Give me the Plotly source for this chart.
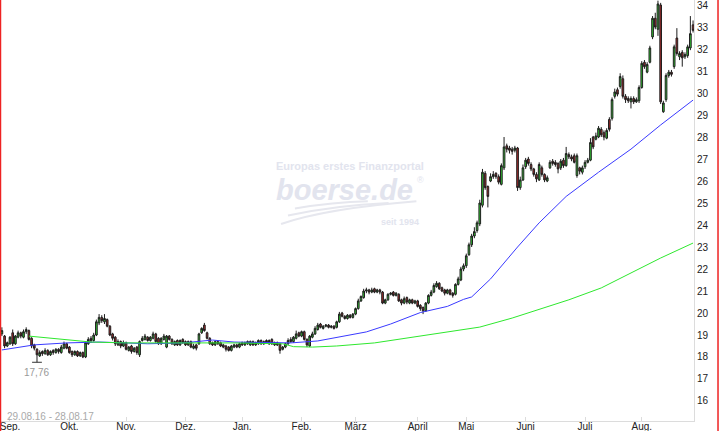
import pandas as pd
import plotly.graph_objects as go

# Handelstage 29.08.16 - 28.08.17 (ohne Börsenfeiertage)
holidays = ["2016-12-26", "2017-04-14", "2017-04-17", "2017-05-01"]
dates = [d.strftime("%Y-%m-%d") for d in pd.bdate_range("2016-08-29", "2017-08-28")
         if d.strftime("%Y-%m-%d") not in holidays]

month_keys = ["2016-09", "2016-10", "2016-11", "2016-12", "2017-01", "2017-02",
              "2017-03", "2017-04", "2017-05", "2017-06", "2017-07", "2017-08"]
month_labels = ["Sep.", "Okt.", "Nov.", "Dez.", "Jan.", "Feb.",
                "März", "April", "Mai", "Juni", "Juli", "Aug."]
y_ticks = list(range(16, 35))

open_ = [
    19.05, 18.95, 18.50, 18.60, 19.10, 18.60, 18.90, 19.10, 18.90, 19.15, 19.20, 18.85, 18.55, 18.35, 18.05, 18.25, 18.15, 18.30, 18.10, 18.30, 18.20, 18.35, 18.20, 18.40, 18.60,
    18.45, 18.25, 18.10, 18.25, 18.05, 18.20, 18.00, 18.60, 18.85, 18.75, 19.00, 19.55, 19.80, 19.60, 19.70, 19.40, 19.05, 18.90, 18.55, 18.70, 18.50,
    18.65, 18.30, 18.50, 18.25, 18.45, 18.10, 18.75, 18.80, 18.90, 18.75, 18.85, 19.05, 18.85, 18.60, 18.80, 18.45, 18.95, 18.80, 18.55, 18.75, 18.55, 18.80,
    18.70, 18.55, 18.70, 18.40, 18.55, 18.60, 19.10, 19.45, 19.10, 18.85, 18.65, 18.55, 18.70, 18.65, 18.55, 18.50, 18.45, 18.30, 18.45, 18.55, 18.45,
    18.65, 18.55, 18.70, 18.55, 18.70, 18.55, 18.60, 18.75, 18.60, 18.75, 18.60, 18.80, 18.55, 18.65, 18.60, 18.35, 18.45, 18.60, 18.80, 18.70, 18.85, 19.10,
    18.95, 19.15, 18.80, 18.50, 18.90, 19.05, 19.25, 19.50, 19.30, 19.40, 19.45, 19.35, 19.40, 19.35, 19.60, 20.00, 19.85, 19.75, 19.90, 19.80,
    19.95, 20.20, 20.55, 20.70, 21.00, 21.05, 20.95, 21.10, 20.95, 21.05, 20.95, 20.45, 20.60, 20.85, 20.95, 20.80, 20.85, 20.60, 20.45, 20.70, 20.45, 20.60, 20.45,
    20.55, 20.35, 20.25, 20.10, 20.45, 20.80, 20.95, 21.20, 21.35, 21.15, 21.05, 20.90, 21.05, 20.90, 20.85, 21.30, 21.50, 22.00,
    22.15, 22.65, 23.10, 23.50, 23.75, 24.05, 24.90, 26.35, 25.75, 26.00, 26.20, 26.35, 26.20, 25.85, 26.60, 27.60, 27.50, 27.45, 27.40, 27.50, 25.70, 26.05,
    26.65, 27.00, 26.75, 26.55, 26.30, 26.05, 26.60, 26.30, 26.00, 26.60, 26.90, 26.85, 26.80, 26.60, 26.95, 26.70, 27.20, 27.10, 27.15, 26.25, 26.60, 26.40,
    26.65, 26.85, 26.95, 28.00, 27.90, 28.00, 28.35, 28.20, 27.95, 28.80, 28.85, 29.85, 30.15, 30.30, 30.65, 29.85, 29.75, 29.60, 29.75, 29.60, 29.65,
    30.25, 31.40, 30.95, 31.40, 32.55, 33.40, 32.90, 34.00, 29.15, 29.70, 30.80, 30.95, 31.20, 32.50, 31.65, 31.85, 31.65, 31.70, 32.05, 33.10,
]
high = [
    19.35, 19.00, 18.70, 18.95, 19.25, 19.00, 19.20, 19.15, 19.25, 19.35, 19.25, 18.90, 18.60, 18.40, 18.30, 18.30, 18.40, 18.35, 18.30, 18.35, 18.40, 18.40, 18.55, 18.70, 18.65,
    18.50, 18.30, 18.30, 18.30, 18.25, 18.25, 18.70, 18.90, 18.95, 19.10, 19.70, 19.95, 19.90, 19.95, 19.75, 19.45, 19.10, 18.95, 18.80, 18.75, 18.75,
    18.70, 18.50, 18.55, 18.45, 18.50, 18.75, 18.95, 19.05, 18.95, 18.95, 19.15, 19.10, 18.90, 18.90, 19.05, 19.00, 19.00, 18.85, 18.75, 18.80, 18.80, 18.85,
    18.75, 18.75, 18.75, 18.60, 18.60, 19.10, 19.35, 19.55, 19.15, 18.90, 18.70, 18.75, 18.75, 18.70, 18.60, 18.55, 18.50, 18.55, 18.60, 18.60, 18.65,
    18.70, 18.70, 18.75, 18.75, 18.75, 18.70, 18.80, 18.80, 18.75, 18.80, 18.80, 18.85, 18.70, 18.70, 18.65, 18.50, 18.65, 18.85, 18.90, 18.95, 19.20, 19.15,
    19.20, 19.20, 18.85, 19.00, 19.15, 19.40, 19.55, 19.55, 19.45, 19.50, 19.50, 19.45, 19.45, 19.65, 20.05, 20.05, 19.90, 19.95, 19.95, 20.00,
    20.25, 20.65, 20.80, 21.10, 21.15, 21.10, 21.15, 21.15, 21.10, 21.10, 21.00, 20.65, 20.90, 20.95, 21.00, 20.95, 20.90, 20.65, 20.75, 20.75, 20.65, 20.65, 20.60,
    20.60, 20.40, 20.30, 20.50, 20.85, 21.05, 21.35, 21.45, 21.40, 21.20, 21.10, 21.10, 21.10, 20.95, 21.35, 21.65, 22.10, 22.25,
    22.70, 23.20, 23.60, 23.90, 24.20, 25.15, 26.55, 26.45, 25.80, 26.35, 26.45, 26.40, 26.30, 26.80, 28.00, 27.70, 27.60, 27.55, 27.60, 27.55, 26.20, 26.75,
    27.05, 27.10, 26.85, 26.60, 26.40, 26.85, 26.70, 26.35, 26.25, 26.95, 27.00, 26.95, 26.85, 27.00, 27.05, 27.55, 27.30, 27.20, 27.25, 27.25, 26.65, 26.70,
    26.95, 27.05, 27.95, 28.05, 28.20, 28.50, 28.45, 28.30, 28.40, 28.90, 29.80, 30.20, 30.25, 30.90, 30.80, 29.95, 29.85, 29.85, 29.85, 29.80, 30.35,
    31.45, 31.50, 31.40, 32.15, 33.50, 33.65, 34.20, 34.10, 29.65, 30.90, 31.05, 31.05, 32.20, 32.95, 31.90, 31.95, 31.85, 32.20, 33.50, 33.30,
]
low = [
    18.95, 18.40, 18.45, 18.55, 18.50, 18.55, 18.85, 18.85, 18.85, 19.05, 18.75, 18.40, 18.30, 17.76, 18.00, 18.05, 18.10, 18.05, 18.05, 18.10, 18.15, 18.15, 18.15, 18.35, 18.35,
    18.15, 18.00, 18.05, 18.00, 18.00, 17.95, 17.95, 18.55, 18.65, 18.70, 18.95, 19.45, 19.55, 19.50, 19.35, 18.95, 18.75, 18.50, 18.50, 18.40, 18.45,
    18.30, 18.25, 18.15, 18.20, 18.10, 18.00, 18.70, 18.75, 18.70, 18.70, 18.80, 18.65, 18.55, 18.55, 18.75, 18.40, 18.75, 18.55, 18.50, 18.50, 18.50, 18.60,
    18.50, 18.50, 18.40, 18.35, 18.30, 18.55, 19.05, 19.15, 18.80, 18.55, 18.50, 18.50, 18.55, 18.45, 18.40, 18.25, 18.25, 18.25, 18.40, 18.40, 18.40,
    18.50, 18.50, 18.55, 18.50, 18.50, 18.50, 18.55, 18.55, 18.55, 18.60, 18.55, 18.55, 18.50, 18.50, 18.15, 18.30, 18.40, 18.55, 18.65, 18.65, 18.80, 18.90,
    18.90, 18.75, 18.45, 18.45, 18.85, 19.00, 19.20, 19.30, 19.25, 19.35, 19.30, 19.30, 19.25, 19.30, 19.55, 19.80, 19.70, 19.70, 19.75, 19.75,
    19.90, 20.15, 20.50, 20.65, 20.90, 20.85, 20.90, 20.90, 20.90, 20.85, 20.40, 20.40, 20.55, 20.80, 20.75, 20.75, 20.50, 20.35, 20.40, 20.40, 20.40, 20.40, 20.40,
    20.25, 20.10, 19.95, 20.05, 20.40, 20.75, 20.90, 21.15, 21.05, 20.95, 20.80, 20.85, 20.80, 20.70, 20.80, 21.25, 21.45, 21.90,
    22.05, 22.60, 23.00, 23.40, 23.65, 23.95, 24.80, 25.60, 24.80, 25.95, 26.10, 26.10, 25.85, 25.80, 26.50, 27.30, 27.25, 27.20, 27.30, 25.55, 25.60, 26.00,
    26.55, 26.70, 26.45, 26.20, 25.95, 26.00, 26.20, 25.95, 25.95, 26.55, 26.70, 26.65, 26.35, 26.50, 26.60, 26.65, 27.00, 26.90, 26.80, 26.15, 26.30, 26.30,
    26.55, 26.80, 26.90, 27.45, 27.85, 27.95, 28.00, 27.85, 27.90, 28.25, 28.75, 29.75, 29.85, 30.20, 29.75, 29.55, 29.55, 29.30, 29.50, 29.55, 29.55,
    30.20, 31.10, 30.90, 31.35, 32.45, 32.90, 32.60, 29.50, 29.10, 29.60, 30.70, 30.75, 31.10, 31.70, 31.50, 31.20, 31.55, 31.60, 31.95, 32.75,
]
close = [
    19.20, 18.50, 18.65, 18.90, 18.60, 18.95, 19.10, 18.95, 19.15, 19.25, 18.80, 18.50, 18.40, 18.10, 18.20, 18.15, 18.30, 18.10, 18.25, 18.20, 18.35, 18.25, 18.45, 18.60, 18.40,
    18.20, 18.10, 18.25, 18.05, 18.20, 18.00, 18.65, 18.80, 18.75, 19.00, 19.60, 19.80, 19.65, 19.75, 19.40, 19.00, 18.85, 18.60, 18.70, 18.50, 18.65,
    18.35, 18.45, 18.25, 18.40, 18.20, 18.70, 18.85, 18.95, 18.75, 18.90, 19.05, 18.70, 18.60, 18.85, 18.95, 18.95, 18.80, 18.60, 18.70, 18.55, 18.75, 18.65,
    18.55, 18.70, 18.45, 18.50, 18.40, 19.05, 19.30, 19.20, 18.85, 18.60, 18.55, 18.70, 18.60, 18.50, 18.45, 18.35, 18.30, 18.50, 18.55, 18.45, 18.60,
    18.55, 18.65, 18.60, 18.70, 18.55, 18.65, 18.75, 18.60, 18.70, 18.65, 18.75, 18.60, 18.65, 18.55, 18.30, 18.45, 18.60, 18.75, 18.70, 18.90, 19.05, 18.95,
    19.15, 18.80, 18.55, 18.95, 19.05, 19.30, 19.45, 19.35, 19.40, 19.45, 19.35, 19.40, 19.30, 19.60, 19.95, 19.85, 19.75, 19.90, 19.80, 19.95,
    20.20, 20.55, 20.75, 21.00, 21.05, 20.95, 21.05, 20.95, 21.05, 20.95, 20.45, 20.60, 20.85, 20.90, 20.80, 20.90, 20.55, 20.45, 20.65, 20.50, 20.60, 20.45, 20.55,
    20.30, 20.20, 20.10, 20.45, 20.80, 20.95, 21.25, 21.35, 21.10, 21.00, 20.90, 21.05, 20.85, 20.80, 21.30, 21.55, 22.00, 22.15,
    22.60, 23.10, 23.50, 23.70, 24.10, 25.00, 26.40, 25.70, 25.30, 26.20, 26.30, 26.20, 25.95, 26.70, 27.55, 27.45, 27.40, 27.35, 27.50, 25.70, 26.05, 26.60,
    26.95, 26.80, 26.55, 26.30, 26.10, 26.75, 26.30, 26.05, 26.15, 26.85, 26.80, 26.75, 26.55, 26.90, 26.70, 27.25, 27.10, 27.00, 26.85, 27.15, 26.45, 26.60,
    26.85, 26.95, 27.75, 27.55, 28.05, 28.40, 28.10, 28.00, 28.30, 28.35, 29.70, 30.05, 29.95, 30.75, 29.85, 29.70, 29.65, 29.75, 29.60, 29.70, 30.25,
    31.35, 31.20, 31.30, 32.05, 33.40, 33.00, 34.05, 29.60, 29.55, 30.80, 30.95, 30.85, 32.10, 31.80, 31.80, 31.60, 31.75, 32.10, 32.70, 32.85,
]

# Gleitende Durchschnitte, Stützpunkte (Tagesindex, Kurs)
ma_blue_idx = [0, 12, 24, 36, 46, 54, 67, 78, 86, 107, 117, 125, 135, 144, 155, 165,
               171, 174, 181, 191, 199, 209, 221, 233, 244, 256]
ma_blue_val = [18.32, 18.55, 18.64, 18.68, 18.64, 18.60, 18.64, 18.77, 18.68, 18.64, 18.73,
               18.90, 19.14, 19.50, 20.02, 20.30, 20.62, 20.73, 21.55, 23.00, 24.10, 25.30,
               26.40, 27.45, 28.55, 29.68]
ma_green_idx = [10, 33, 46, 86, 104, 108, 115, 124, 138, 150, 162, 177, 189, 198, 210,
                222, 244, 256]
ma_green_val = [18.95, 18.68, 18.64, 18.64, 18.60, 18.47, 18.45, 18.50, 18.64, 18.86, 19.10,
                19.36, 19.77, 20.14, 20.60, 21.14, 22.50, 23.18]

assert len(dates) == len(open_) == len(high) == len(low) == len(close)

tick_vals = [next(d for d in dates if d.startswith(k)) for k in month_keys]
low_i = low.index(min(low))

FONT = "Arial, Liberation Sans, sans-serif"
WM = "#e2e4ee"

fig = go.Figure()

fig.add_trace(go.Candlestick(
    x=dates, open=open_, high=high, low=low, close=close,
    increasing=dict(line=dict(color="#1e1e1e", width=1), fillcolor="#33cc33"),
    decreasing=dict(line=dict(color="#1e1e1e", width=1), fillcolor="#aa2b2b"),
    whiskerwidth=0, showlegend=False, hoverinfo="skip",
))

fig.add_trace(go.Scatter(
    x=[dates[i] for i in ma_blue_idx], y=ma_blue_val, mode="lines",
    line=dict(color="#3a3aff", width=1), showlegend=False, hoverinfo="skip",
))
fig.add_trace(go.Scatter(
    x=[dates[i] for i in ma_green_idx], y=ma_green_val, mode="lines",
    line=dict(color="#2ee82e", width=1), showlegend=False, hoverinfo="skip",
))

# Markierung Tiefstkurs
fig.add_trace(go.Scatter(
    x=[dates[low_i]], y=[low[low_i]], mode="markers",
    marker=dict(symbol="line-ew", size=7, line=dict(color="#333", width=1)),
    showlegend=False, hoverinfo="skip",
))
fig.add_annotation(
    x=dates[low_i], y=low[low_i], text=f"{low[low_i]:.2f}".replace(".", ","),
    showarrow=False, yanchor="top", yshift=-3,
    font=dict(family=FONT, size=10, color="#999999"),
)

# Zeitraum
fig.add_annotation(
    xref="paper", yref="paper", x=0.007, y=0.011, xanchor="left", yanchor="middle",
    text=f"{pd.Timestamp(dates[0]):%d.%m.%y} - {pd.Timestamp(dates[-1]):%d.%m.%y}",
    showarrow=False, font=dict(family=FONT, size=10, color="#aaaaaa"),
)

# Wasserzeichen
fig.add_annotation(xref="paper", yref="paper", x=0.504, y=0.605, showarrow=False,
                   text="<b>Europas erstes Finanzportal</b>",
                   font=dict(family=FONT, size=11, color=WM))
fig.add_annotation(xref="paper", yref="paper", x=0.497, y=0.548, showarrow=False,
                   text="<b><i>boerse.de</i></b>",
                   font=dict(family=FONT, size=29, color=WM))
fig.add_annotation(xref="paper", yref="paper", x=0.606, y=0.572, showarrow=False,
                   text="®", font=dict(family=FONT, size=9, color=WM))
fig.add_annotation(xref="paper", yref="paper", x=0.576, y=0.472, showarrow=False,
                   text="<b>seit 1994</b>", font=dict(family=FONT, size=9, color=WM))
for p in ["M 0.405,0.468 Q 0.47,0.505 0.60,0.522",
          "M 0.415,0.488 Q 0.48,0.512 0.56,0.518",
          "M 0.425,0.505 Q 0.48,0.520 0.53,0.522"]:
    fig.add_shape(type="path", xref="paper", yref="paper", path=p,
                  line=dict(color="#e6e7ee", width=2), layer="below")

# roter Rahmen links/rechts
for xp in [0.0007, 1.0346]:
    fig.add_shape(type="line", xref="paper", yref="paper", x0=xp, x1=xp, y0=-0.03, y1=1.0,
                  line=dict(color="#ee2222", width=1.5))

fig.update_layout(
    width=719, height=431,
    margin=dict(l=0, r=25, t=0, b=10),
    paper_bgcolor="white", plot_bgcolor="white",
    showlegend=False, boxgap=0.12,
    font=dict(family=FONT, size=10, color="#222"),
    xaxis=dict(
        type="category", range=[-0.7, 256.35],
        tickvals=tick_vals, ticktext=month_labels,
        showgrid=False, showline=True, linecolor="#dcdcdc", linewidth=1,
        ticks="inside", ticklen=4, tickcolor="#dcdcdc",
        tickfont=dict(size=10, color="#222"),
        ticklabelstandoff=-4, ticklabeloverflow="allow",
        rangeslider=dict(visible=False), automargin=False, fixedrange=True,
    ),
    yaxis=dict(
        side="right", range=[15.09, 34.23],
        tickvals=y_ticks, ticktext=[str(v) for v in y_ticks],
        showgrid=False, zeroline=False, showline=True, linecolor="#dcdcdc", linewidth=1,
        ticks="", tickfont=dict(size=10, color="#222"), ticklabeloverflow="allow",
        automargin=False, fixedrange=True,
    ),
)

fig.write_html("out.html", config={"displayModeBar": False},
               post_script="document.body.style.margin='0';")
